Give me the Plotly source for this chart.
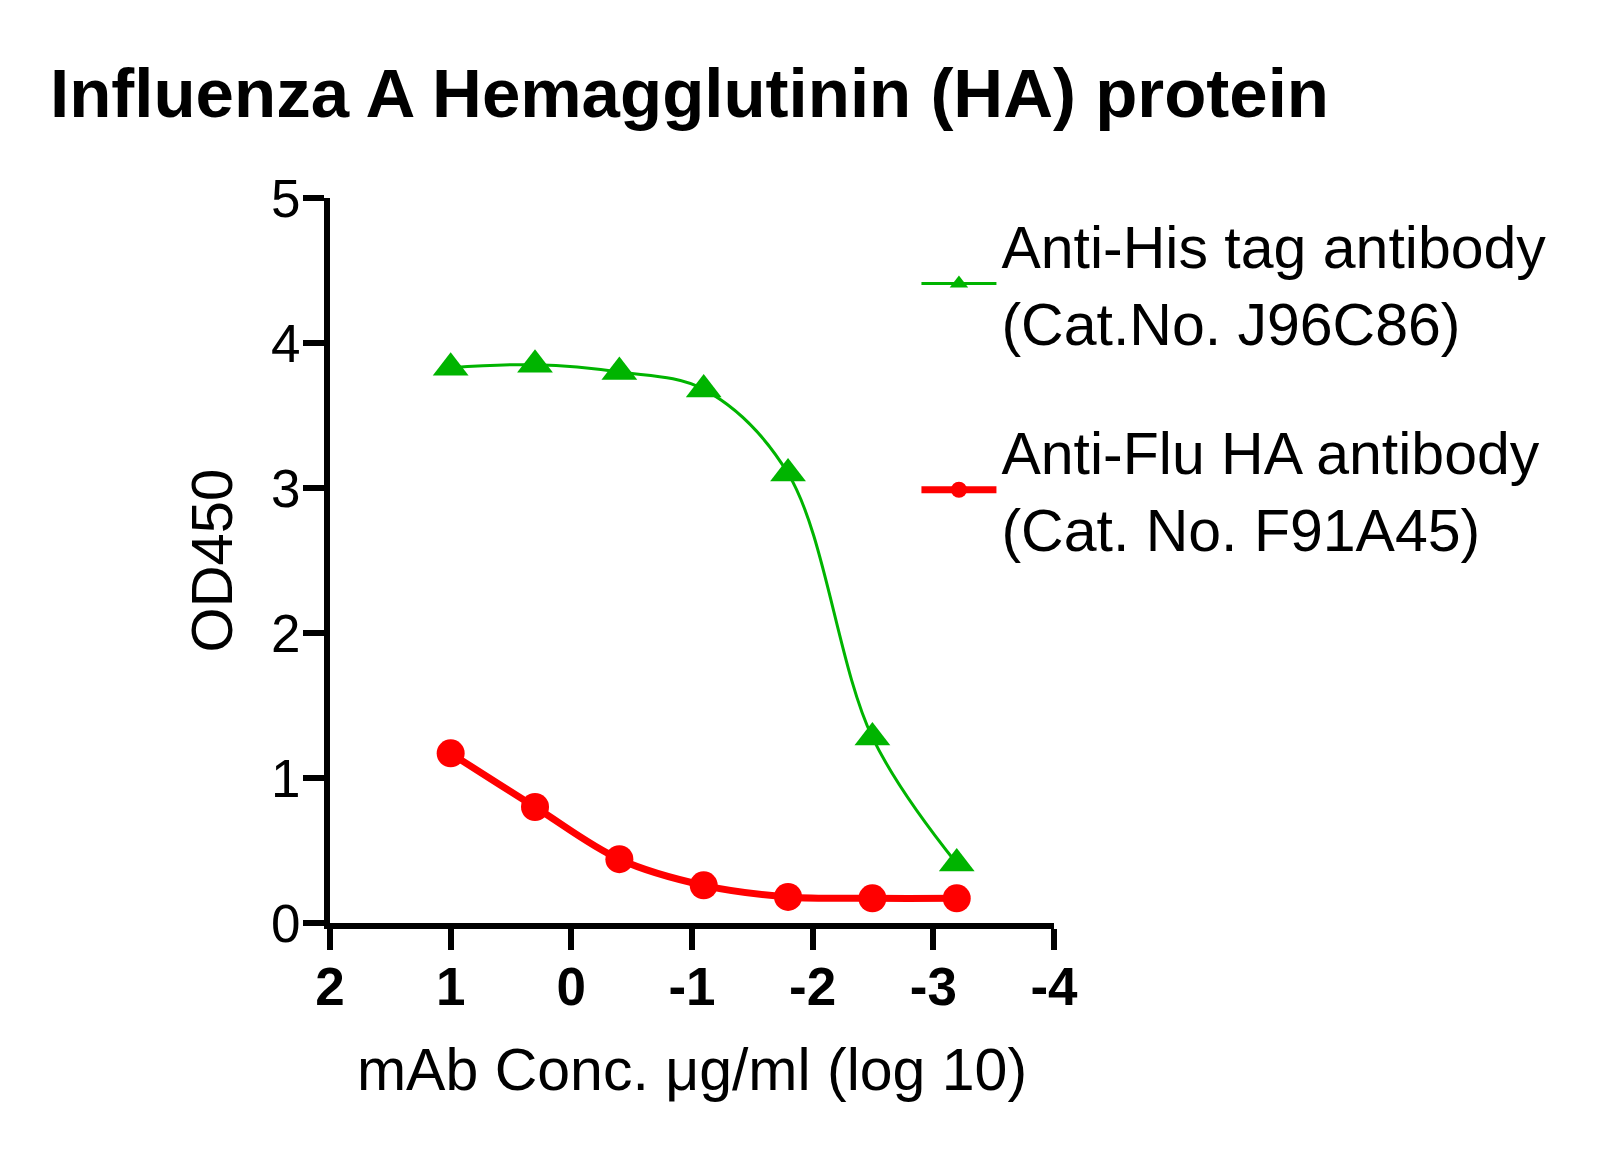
import plotly.graph_objects as go

# Data (x = log10 of mAb concentration in ug/ml)
log_conc = [1.0, 0.301, -0.398, -1.097, -1.796, -2.495, -3.194]
his_tag_od = [3.83, 3.85, 3.80, 3.68, 3.10, 1.28, 0.41]
flu_ha_od = [1.17, 0.80, 0.44, 0.26, 0.18, 0.17, 0.17]

x_ticks = [2, 1, 0, -1, -2, -3, -4]
y_ticks = [0, 1, 2, 3, 4, 5]

series_names = [
    "Anti-His tag antibody<br>(Cat.No. J96C86)",
    "Anti-Flu HA antibody<br>(Cat. No. F91A45)",
]

GREEN = "#00B400"
RED = "#FF0000"
FONT = "Liberation Sans, Arial, sans-serif"

fig = go.Figure()
fig.add_trace(go.Scatter(
    x=log_conc, y=his_tag_od, name=series_names[0], legendgroup="g1",
    mode="lines+markers",
    line=dict(color=GREEN, width=3, shape="spline", smoothing=1.0),
    marker=dict(symbol="triangle-up", size=31, color=GREEN),
))
fig.add_trace(go.Scatter(
    x=log_conc, y=flu_ha_od, name=series_names[1], legendgroup="g2",
    mode="lines+markers",
    line=dict(color=RED, width=7, shape="spline", smoothing=1.0),
    marker=dict(symbol="circle", size=28, color=RED),
))

fig.update_layout(
    width=1600, height=1151,
    margin=dict(l=322, r=554, t=190, b=236),
    paper_bgcolor="white", plot_bgcolor="white",
    font=dict(family=FONT, color="black", size=52),
    title=dict(
        text="<b>Influenza A Hemagglutinin (HA) protein</b>",
        font=dict(family=FONT, size=69, color="black"),
        x=42 / 1600, xref="container", xanchor="left",
        y=1 - 61 / 1151, yref="container", yanchor="top",
    ),
    showlegend=True,
    legend=dict(
        x=0.81, y=0.997, xanchor="left", yanchor="top",
        font=dict(family=FONT, size=59, color="black"),
        bgcolor="rgba(0,0,0,0)",
        tracegroupgap=50,
        itemsizing="trace",
        itemwidth=75,
    ),
)

fig.update_xaxes(
    range=[2, -4], tickvals=x_ticks, ticktext=[str(v) for v in x_ticks],
    showline=True, linecolor="black", linewidth=6,
    ticks="outside", ticklen=21, tickwidth=6, tickcolor="black",
    showgrid=False, zeroline=False,
    ticklabelstandoff=-9,
    tickfont=dict(family=FONT, size=53, color="black", weight="bold"),
    title=dict(text="mAb Conc. \u03bcg/ml (log 10)",
               font=dict(family=FONT, size=59, color="black"), standoff=36),
)
fig.update_yaxes(
    range=[0, 5], tickvals=y_ticks,
    showline=True, linecolor="black", linewidth=6,
    ticks="outside", ticklen=21, tickwidth=6, tickcolor="black",
    showgrid=False, zeroline=False,
    ticklabelstandoff=-8,
    tickfont=dict(family=FONT, size=53, color="black"),
    title=dict(text="OD450", font=dict(family=FONT, size=58, color="black"), standoff=22),
)

fig.write_html("out.html")
